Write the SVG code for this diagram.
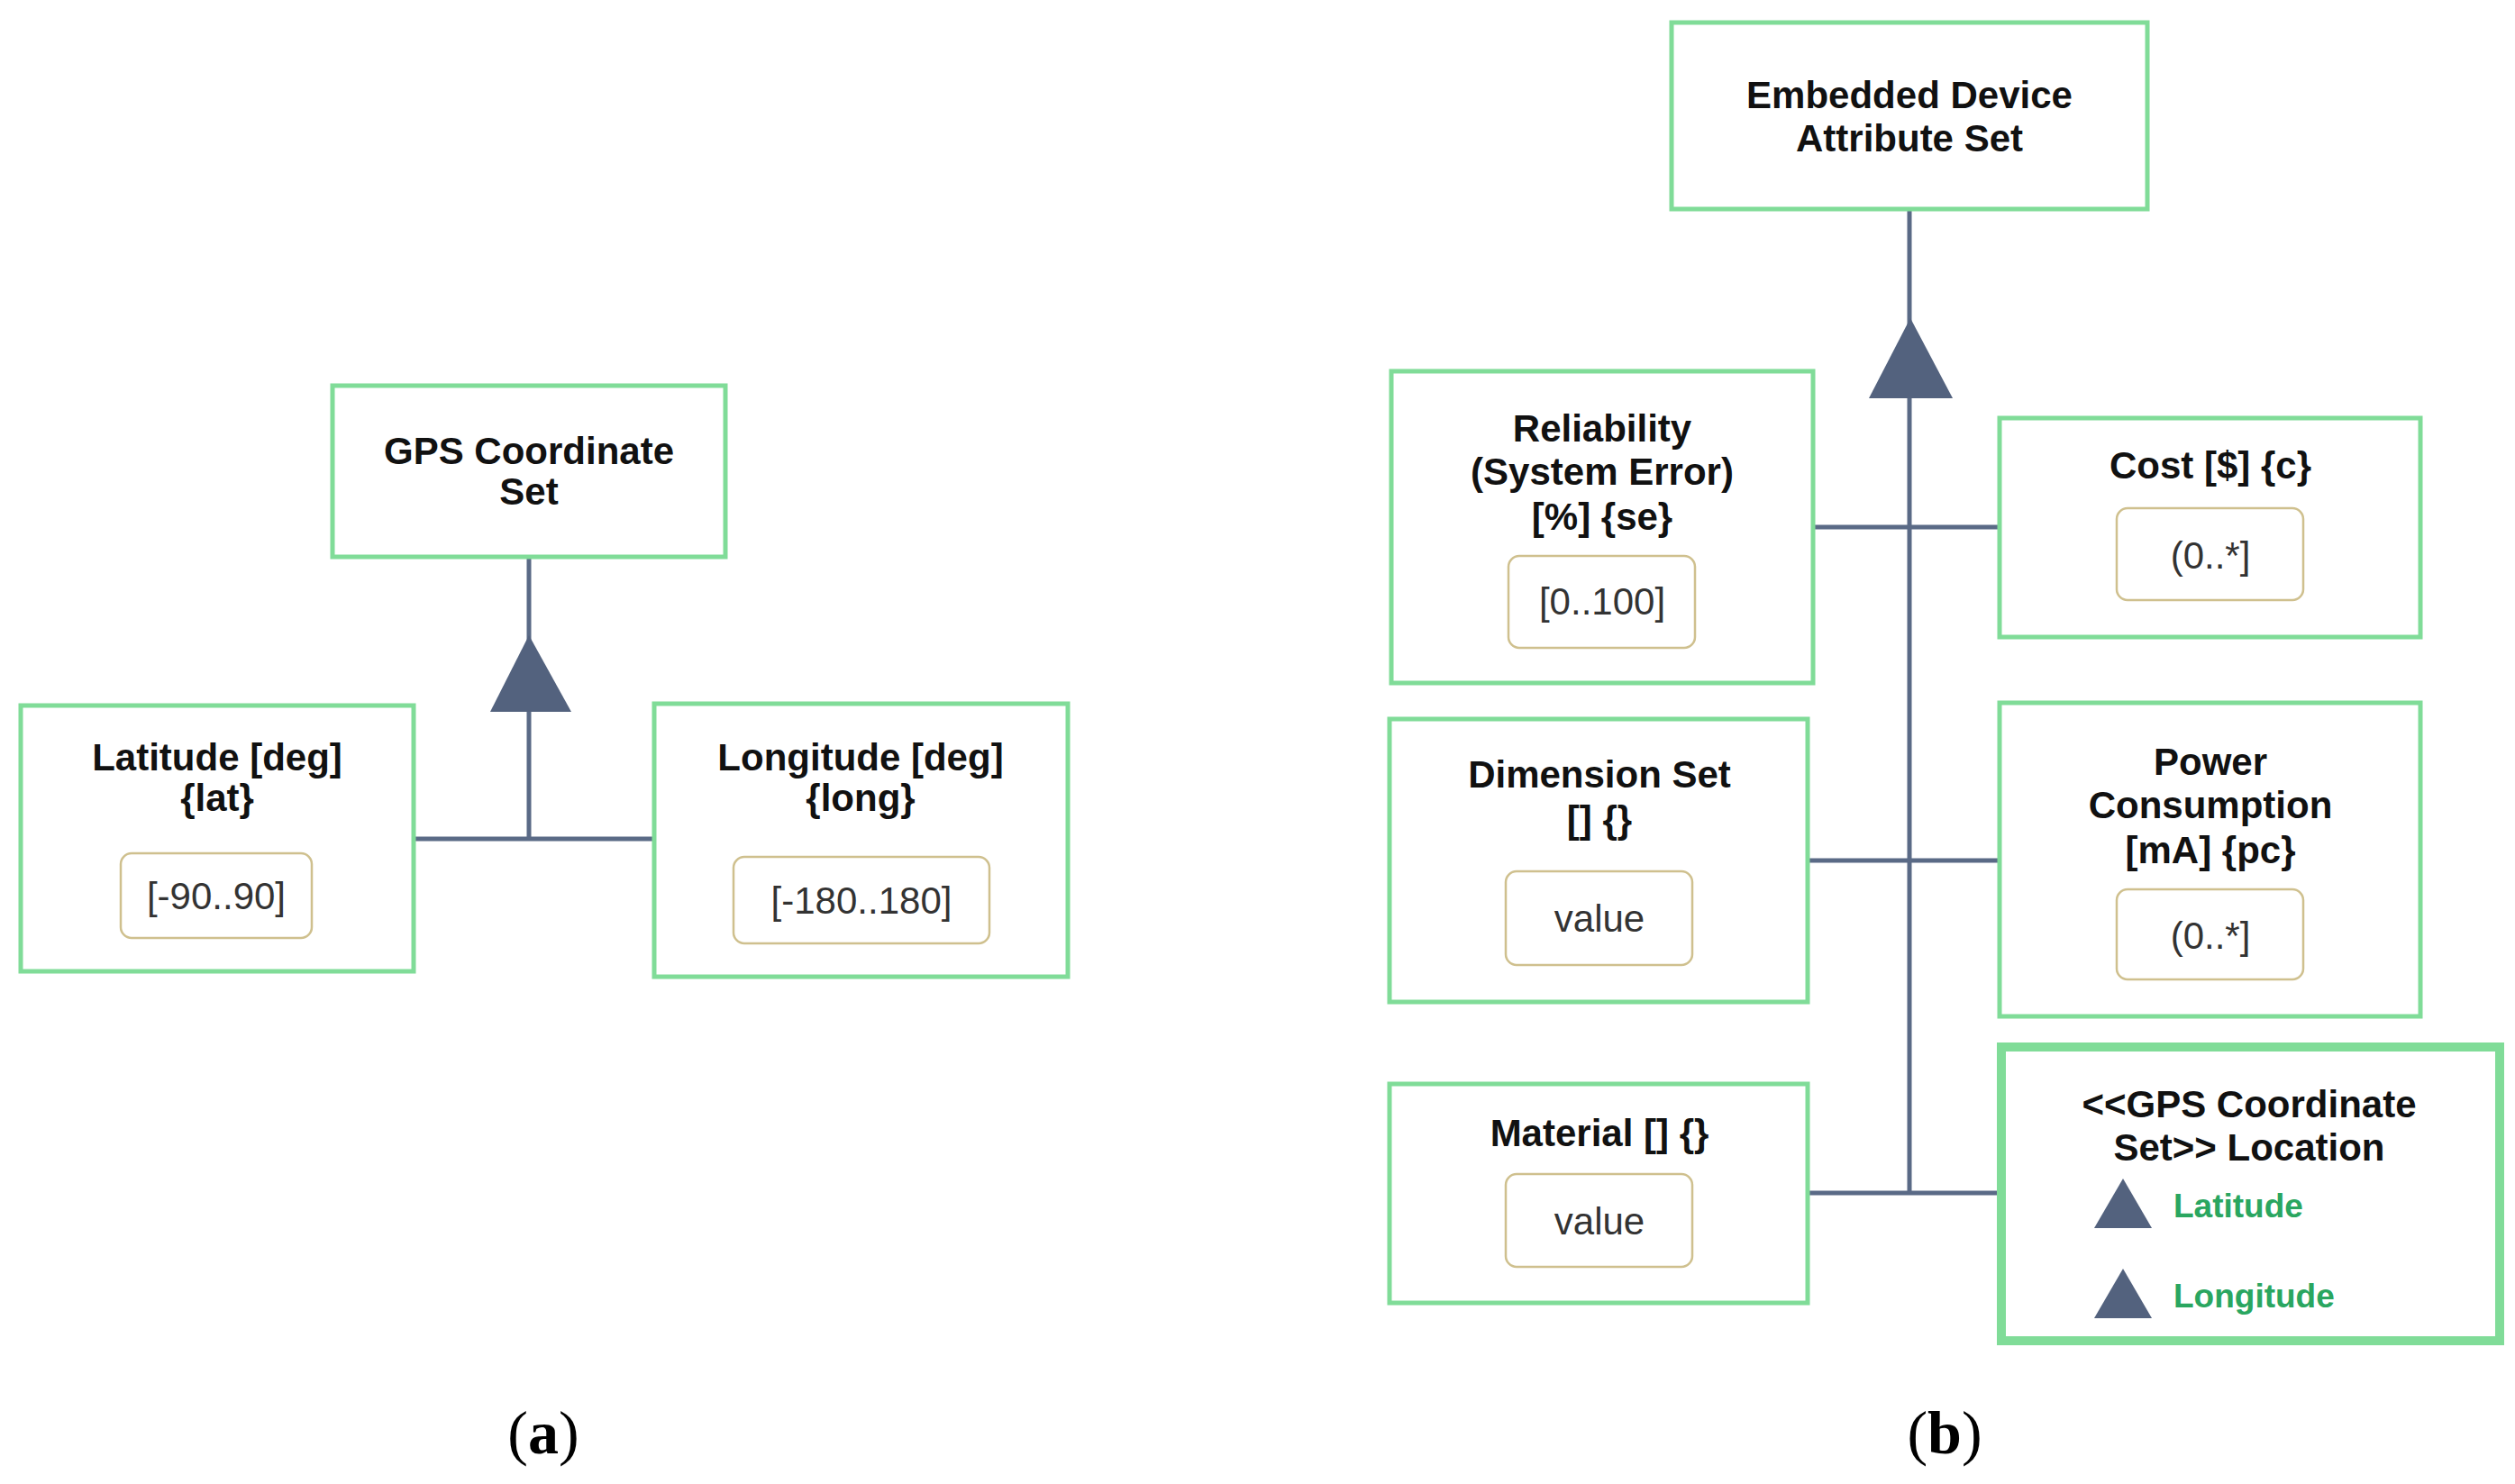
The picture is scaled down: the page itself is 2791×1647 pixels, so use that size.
<svg xmlns="http://www.w3.org/2000/svg" width="2791" height="1647" viewBox="0 0 2791 1647">
<style>
.box{fill:#fff;stroke:#80dc98;stroke-width:5}
.thick{stroke-width:10}
.val{fill:#fff;stroke:#cfc08e;stroke-width:2.5}
.t{font-family:"Liberation Sans",Arial,sans-serif;font-weight:bold;font-size:42px;fill:#111;text-anchor:middle}
.v{font-family:"Liberation Sans",Arial,sans-serif;font-size:42px;fill:#333;text-anchor:middle}
.g{font-family:"Liberation Sans",Arial,sans-serif;font-weight:bold;font-size:37px;fill:#2aa660}
.cap{font-family:"Liberation Serif","Times New Roman",serif;font-size:68px;fill:#000;text-anchor:middle}
.ln{stroke:#5a6a86;stroke-width:5;fill:none}
.tri{fill:#53627e}
</style>
<rect width="2791" height="1647" fill="#fff"/>
<g id="connectors">
<path class="ln" d="M587 618V931M459 931H726"/>
<polygon class="tri" points="587,705 544,790 634,790"/>
<path class="ln" d="M2119 232V1323M2012 585H2219M2006 955H2219M2006 1324H2219"/>
<polygon class="tri" points="2120,353 2074,442 2167,442"/>
</g>
<g id="gps-set"><rect class="box" x="369" y="428" width="436" height="190"/>
<text class="t" x="587" y="515">GPS Coordinate</text><text class="t" x="587" y="560">Set</text></g>
<g id="latitude"><rect class="box" x="23" y="783" width="436" height="295"/>
<text class="t" x="241" y="855">Latitude [deg]</text><text class="t" x="241" y="900">{lat}</text>
<rect class="val" x="134" y="947" width="212" height="94" rx="12"/><text class="v" x="240" y="1009">[-90..90]</text></g>
<g id="longitude"><rect class="box" x="726" y="781" width="459" height="303"/>
<text class="t" x="955" y="855">Longitude [deg]</text><text class="t" x="955" y="900">{long}</text>
<rect class="val" x="814" y="951" width="284" height="96" rx="12"/><text class="v" x="956" y="1014">[-180..180]</text></g>
<text class="cap" x="603" y="1613">(<tspan font-weight="bold">a</tspan>)</text>
<g id="embedded"><rect class="box" x="1855" y="25" width="528" height="207"/>
<text class="t" x="2119" y="120">Embedded Device</text><text class="t" x="2119" y="168">Attribute Set</text></g>
<g id="reliability"><rect class="box" x="1544" y="412" width="468" height="346"/>
<text class="t" x="1778" y="490">Reliability</text><text class="t" x="1778" y="538">(System Error)</text><text class="t" x="1778" y="588">[%] {se}</text>
<rect class="val" x="1674" y="617" width="207" height="102" rx="12"/><text class="v" x="1778" y="682">[0..100]</text></g>
<g id="cost"><rect class="box" x="2219" y="464" width="467" height="243"/>
<text class="t" x="2453" y="531">Cost [$] {c}</text>
<rect class="val" x="2349" y="564" width="207" height="102" rx="12"/><text class="v" x="2453" y="631">(0..*]</text></g>
<g id="dimension"><rect class="box" x="1542" y="798" width="464" height="314"/>
<text class="t" x="1775" y="874">Dimension Set</text><text class="t" x="1775" y="924">[] {}</text>
<rect class="val" x="1671" y="967" width="207" height="104" rx="12"/><text class="v" x="1775" y="1034">value</text></g>
<g id="power"><rect class="box" x="2219" y="780" width="467" height="348"/>
<text class="t" x="2453" y="860">Power</text><text class="t" x="2453" y="908">Consumption</text><text class="t" x="2453" y="958">[mA] {pc}</text>
<rect class="val" x="2349" y="987" width="207" height="100" rx="12"/><text class="v" x="2453" y="1053">(0..*]</text></g>
<g id="material"><rect class="box" x="1542" y="1203" width="464" height="243"/>
<text class="t" x="1775" y="1272">Material [] {}</text>
<rect class="val" x="1671" y="1303" width="207" height="103" rx="12"/><text class="v" x="1775" y="1370">value</text></g>
<g id="location"><rect class="box thick" x="2221" y="1162" width="553" height="326"/>
<text class="t" x="2496" y="1240">&lt;&lt;GPS Coordinate</text><text class="t" x="2496" y="1288">Set&gt;&gt; Location</text>
<polygon class="tri" points="2356,1308 2324,1363 2388,1363"/><text class="g" x="2412" y="1351">Latitude</text>
<polygon class="tri" points="2356,1408 2324,1463 2388,1463"/><text class="g" x="2412" y="1451">Longitude</text></g>
<text class="cap" x="2158" y="1613">(<tspan font-weight="bold">b</tspan>)</text>
</svg>
